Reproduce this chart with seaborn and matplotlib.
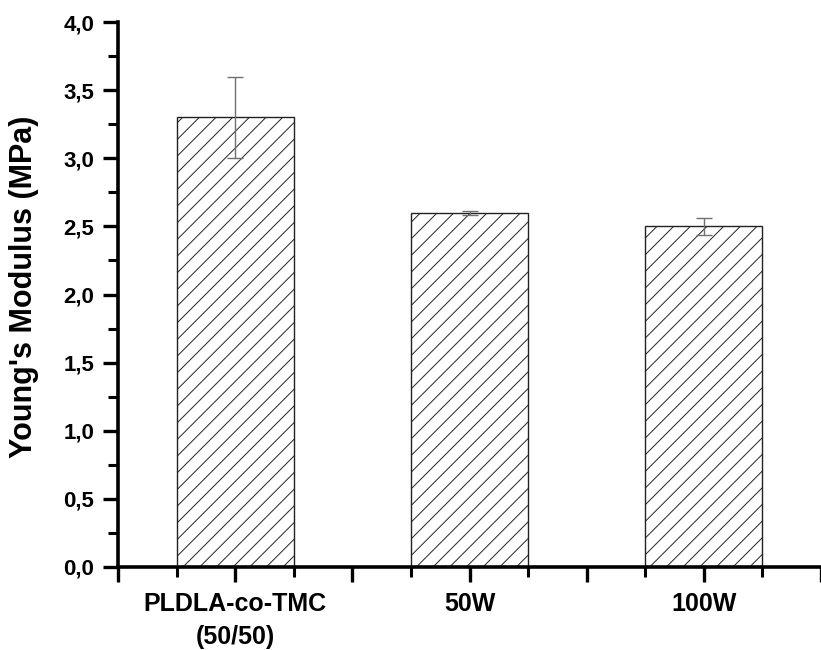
import numpy as np
import matplotlib
matplotlib.use("Agg")
import matplotlib.pyplot as plt
import seaborn as sns
from matplotlib.ticker import MultipleLocator

samples = ["PLDLA-co-TMC\n(50/50)", "50W", "100W"]
modulus = [3.30, 2.60, 2.50]
modulus_err = [0.30, 0.015, 0.065]
y_ticks = [0.0, 0.5, 1.0, 1.5, 2.0, 2.5, 3.0, 3.5, 4.0]

sns.set_style("ticks")
plt.rcParams["font.family"] = ["Liberation Sans", "DejaVu Sans"]
plt.rcParams["font.weight"] = "bold"
plt.rcParams["hatch.linewidth"] = 0.7
plt.rcParams["hatch.color"] = "#4a4a4a"

fig = plt.figure(figsize=(8.21, 6.5), dpi=100)
ax = fig.add_axes([118 / 821, 83 / 650, 1 - 118 / 821, 545 / 650])

sns.barplot(x=samples, y=modulus, width=0.5, color="white",
            edgecolor="#222222", linewidth=1.0, ax=ax)
for bar in ax.patches:
    bar.set_hatch("//")

pos = np.arange(len(samples))
ax.errorbar(pos, modulus, yerr=modulus_err, fmt="none", ecolor="#707070",
            elinewidth=1.0, capsize=6, capthick=1.0, zorder=5)

ax.set_xlim(-0.5, 2.48)
ax.set_ylim(0, 4.0)

major_x = np.arange(-0.5, 2.51, 0.5)
ax.set_xticks(major_x)
ax.set_xticklabels(["" if abs(p - round(p)) > 0.01 else samples[int(round(p))] for p in major_x],
                   linespacing=1.45)
ax.set_xticks(np.arange(-0.25, 2.5, 0.5), minor=True)

ax.set_yticks(y_ticks)
ax.set_yticklabels([f"{v:.1f}".replace(".", ",") for v in y_ticks])
ax.yaxis.set_minor_locator(MultipleLocator(0.25))

ax.tick_params(axis="both", which="major", direction="out", length=11, width=2.4,
               color="black", labelcolor="black")
ax.tick_params(axis="x", which="major", labelsize=18, pad=7)
ax.tick_params(axis="y", which="major", labelsize=16, pad=6)
ax.tick_params(axis="both", which="minor", direction="out", length=7, width=2.2,
               color="black")
for lab in ax.get_xticklabels() + ax.get_yticklabels():
    lab.set_fontweight("bold")

sns.despine(ax=ax)
for side in ["left", "bottom"]:
    ax.spines[side].set_linewidth(2.6)
    ax.spines[side].set_color("black")

ax.set_xlabel("")
ax.set_ylabel("Young's Modulus (MPa)", fontsize=22, fontweight="bold", color="black")
ax.yaxis.set_label_coords(-0.112, 0.515)

fig.savefig("out.png", dpi=100)
